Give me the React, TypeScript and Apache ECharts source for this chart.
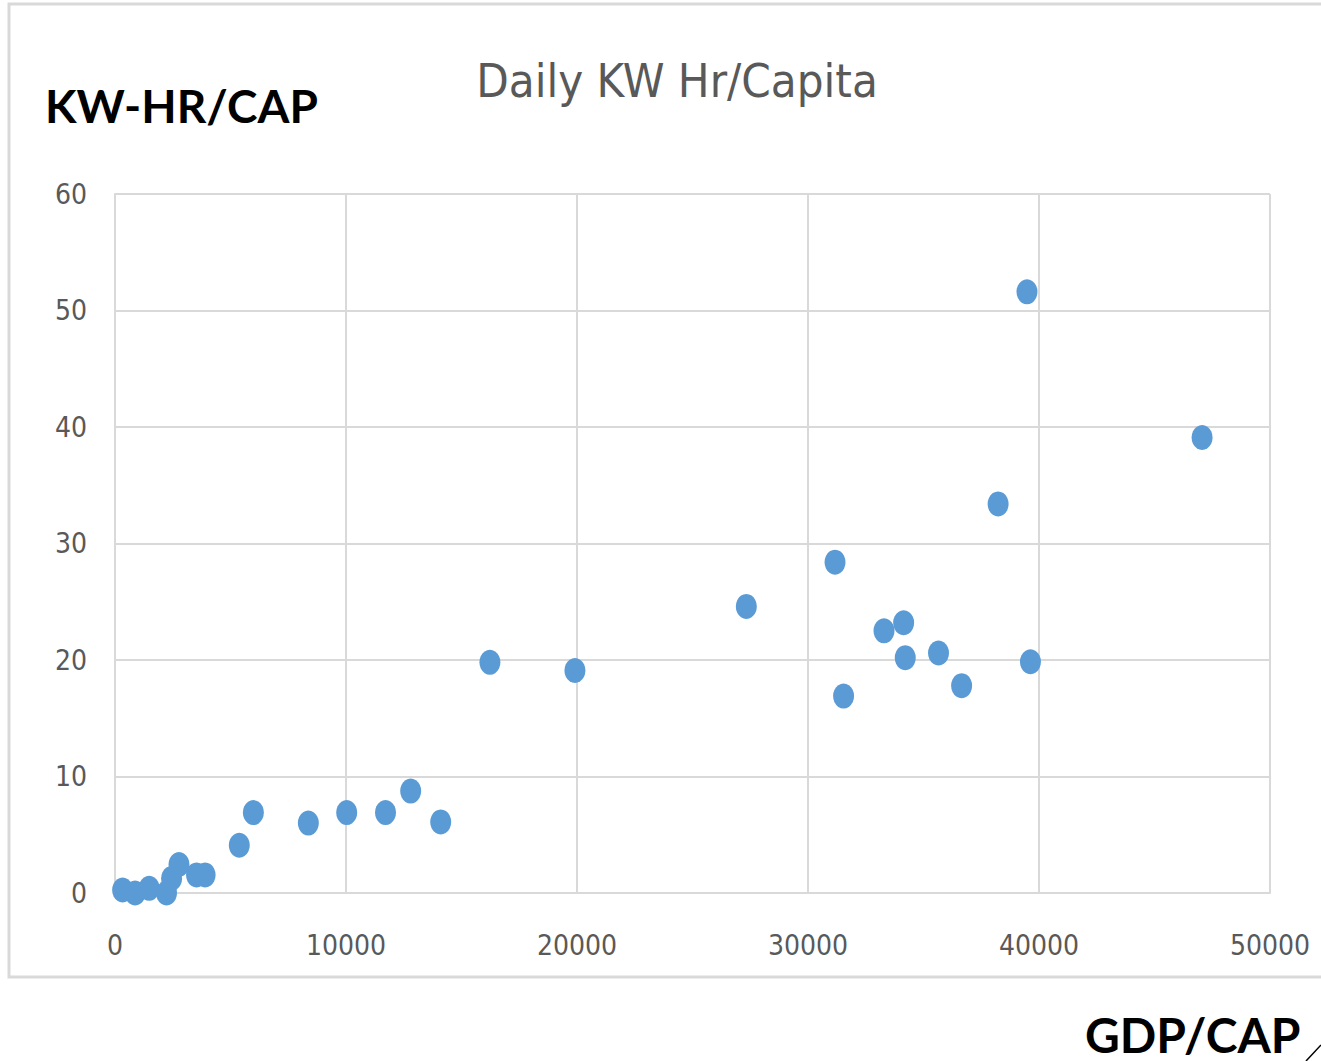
import React, { useEffect, useRef } from "react";
import * as echarts from "echarts";

const gdpPerCap = [330, 870, 1480, 2230, 2450, 2770, 3530, 3900, 5380, 5990, 8370, 10030, 11710, 12800, 14100, 16230, 19910, 27330, 31170, 31540, 33290, 34140, 34210, 35650, 36650, 38230, 39480, 39630, 47060];
const kwhPerCap = [0.26, 0.0, 0.4, 0.0, 1.25, 2.45, 1.55, 1.55, 4.1, 6.9, 6.0, 6.9, 6.9, 8.75, 6.1, 19.8, 19.1, 24.6, 28.4, 16.9, 22.5, 23.2, 20.2, 20.6, 17.8, 33.4, 51.6, 19.85, 39.1];
const chartTitle = "Daily KW Hr/Capita";
const yLabel = "KW-HR/CAP";
const xLabel = "GDP/CAP";

const narrow = "'Liberation Sans Narrow', 'DejaVu Sans Condensed', 'Open Sans', sans-serif";

export default function App() {
  const ref = useRef<HTMLDivElement>(null);
  useEffect(() => {
    if (!ref.current) return;
    const chart = echarts.init(ref.current, undefined, { renderer: "svg" });
    const axisText = { color: "#595959", fontSize: 28, fontFamily: narrow };
    chart.setOption({
      animation: false,
      backgroundColor: "#ffffff",
      title: {
        text: chartTitle,
        left: 672,
        top: 52,
        textAlign: "center",
        textStyle: { color: "#595959", fontSize: 47, fontWeight: "normal", fontFamily: narrow },
      },
      graphic: [
        { type: "rect", shape: { x: 9, y: 4, width: 1330, height: 973 }, style: { fill: "none", stroke: "#d9d9d9", lineWidth: 3 }, z: -1 },
        { type: "text", left: 45, top: 82, style: { text: yLabel, fill: "#000", font: "bold 46px Lato, 'DejaVu Sans', sans-serif" } },
        { type: "text", left: 1085, top: 1010, style: { text: xLabel, fill: "#000", font: "bold 48px Lato, 'DejaVu Sans', sans-serif" } },
        { type: "line", shape: { x1: 1306, y1: 1061, x2: 1321, y2: 1045 }, style: { stroke: "#000", lineWidth: 1.5 } },
      ],
      grid: { left: 115, right: 51, top: 194, bottom: 168, containLabel: false },
      xAxis: {
        type: "value",
        min: 0,
        max: 50000,
        interval: 10000,
        axisLine: { show: true, lineStyle: { color: "#d9d9d9", width: 2 } },
        axisTick: { show: false },
        axisLabel: { ...axisText, margin: 38, formatter: (v: number) => String(v) },
        splitLine: { show: true, lineStyle: { color: "#d9d9d9", width: 2 } },
      },
      yAxis: {
        type: "value",
        min: 0,
        max: 60,
        interval: 10,
        axisLine: { show: true, lineStyle: { color: "#d9d9d9", width: 2 } },
        axisTick: { show: false },
        axisLabel: { ...axisText, margin: 28 },
        splitLine: { show: true, lineStyle: { color: "#d9d9d9", width: 2 } },
      },
      series: [
        {
          type: "scatter",
          data: gdpPerCap.map((g, i) => [g, kwhPerCap[i]]),
          symbol: "circle",
          symbolSize: [21, 25],
          itemStyle: { color: "#5b9bd5", opacity: 1 },
        },
      ],
    });
    return () => chart.dispose();
  }, []);
  return <div ref={ref} style={{ position: "fixed", left: 0, top: 0, width: 1321, height: 1061 }} />;
}
